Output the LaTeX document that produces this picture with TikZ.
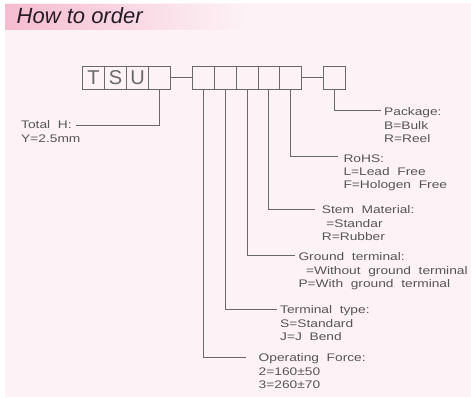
\documentclass[tikz,border=0pt]{standalone}
\usepackage{fontspec}
\setmainfont{Liberation Sans}
\newfontfamily\cadfont[FakeStretch=1.25]{Liberation Sans}
\definecolor{bgpink}{RGB}{253,242,246}
\definecolor{titlepink}{RGB}{245,188,207}
\definecolor{linegray}{RGB}{105,105,105}
\definecolor{textgray}{RGB}{85,85,85}
\definecolor{titleink}{RGB}{38,28,38}
\tikzset{
  cell/.style={draw=linegray, line width=0.8pt, minimum width=22pt, minimum height=22.3pt,
    inner sep=0pt, outer sep=0pt, anchor=north west, text=linegray,
    font=\fontsize{20}{20}\selectfont},
  cellb/.style={cell, minimum width=21.8pt},
  lbl/.style={anchor=north west, inner sep=0pt, align=left, text=textgray,
    font=\cadfont\fontsize{11}{13.4}\selectfont},
  lead/.style={draw=linegray, line width=0.8pt}
}
\begin{document}
\begin{tikzpicture}[x=1pt,y=-1pt]
\useasboundingbox (0,0) rectangle (471,397);
\fill[white] (0,0) rectangle (471,397);
\fill[bgpink] (5,3) rectangle (471,397);
\shade[left color=titlepink, right color=bgpink] (5,4) rectangle (245,29);
\node[anchor=base west, inner sep=0pt, text=titleink, font=\itshape\fontsize{22}{22}\selectfont] (title) at (16.5,23.3) {How to order};

% code boxes
\node[cell] (b1) at (82.5,66.7) {T};
\node[cell] (b2) at (104.5,66.7) {S};
\node[cell] (b3) at (126.5,66.7) {U};
\node[cell] (b4) at (148.5,66.7) {};
\node[cellb] (b5) at (192.5,66.7) {};
\node[cellb] (b6) at (214.3,66.7) {};
\node[cellb] (b7) at (236.1,66.7) {};
\node[cellb] (b8) at (257.9,66.7) {};
\node[cellb] (b9) at (279.7,66.7) {};
\node[cell] (b10) at (323.5,66.7) {};
\draw[lead] (b4.east) -- (b5.west);
\draw[lead] (b9.east) -- (b10.west);

% labels
\node[lbl] (tTot) at (21,120.8) {Total\ \ H:\\Y=2.5mm};
\node[lbl] (tPack) at (384,107.5) {Package:\\B=Bulk\\R=Reel};
\node[lbl] (tRohs) at (343.3,154.3) {RoHS:\\L=Lead\ \ Free\\F=Hologen\ \ Free};
\node[lbl] (tStem) at (321.7,205.8) {Stem\ \ Material:\\\hspace*{4.5pt}=Standar\\R=Rubber};
\node[lbl] (tGround) at (298.3,252.8) {Ground\ \ terminal:\\\hspace*{7.5pt}=Without\ \ ground\ \ terminal\\P=With\ \ ground\ \ terminal};
\node[lbl] (tTerm) at (280,305.6) {Terminal\ \ type:\\S=Standard\\J=J\ \ Bend};
\node[lbl] (tOper) at (258.5,353.8) {Operating\ \ Force:\\2=160±50\\3=260±70};

% leader end points
\coordinate (eTot) at (76,125.5);
\coordinate (ePack) at (381,110.7);
\coordinate (eRohs) at (338,156.7);
\coordinate (eStem) at (315,209.3);
\coordinate (eGround) at (295,255.5);
\coordinate (eTerm) at (277,309);
\coordinate (eOper) at (246,357);

\draw[lead] (b4.south) |- (eTot);
\draw[lead] (b10.south) |- (ePack);
\draw[lead] (b9.south) |- (eRohs);
\draw[lead] (b8.south) |- (eStem);
\draw[lead] (b7.south) |- (eGround);
\draw[lead] (b6.south) |- (eTerm);
\draw[lead] (b5.south) |- (eOper);
\end{tikzpicture}
\end{document}
